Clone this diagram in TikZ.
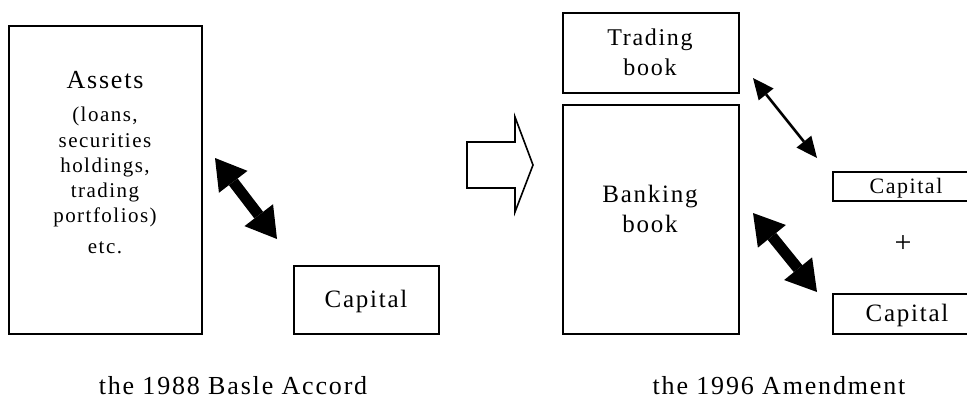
\documentclass[tikz,border=0pt]{standalone}
\usepackage{fontspec}
\setmainfont{Liberation Serif}
\newfontfamily\spaced[LetterSpace=7]{Liberation Serif}
\usetikzlibrary{arrows.meta}
\tikzset{
  box/.style={draw=black, line width=1.8pt, fill=white, inner sep=0pt, anchor=north west},
  lbl/.style={inner sep=0pt, anchor=base, text=black},
  thickarrow/.style={line width=11pt, {Triangle[length=30pt,width=36pt,line width=0pt]}-{Triangle[length=30pt,width=36pt,line width=0pt]}},
  thinarrow/.style={line width=2.6pt, {Triangle[length=21pt,width=19pt,line width=0pt]}-{Triangle[length=21pt,width=19pt,line width=0pt]}},
  hollow/.style={draw=black, line width=1.6pt, fill=white, line join=miter}
}
\begin{document}
\begin{tikzpicture}[x=1pt, y=-1pt]
\useasboundingbox (0,0) rectangle (967,410);
\fill[white] (0,0) rectangle (967,410);
\begin{scope}
\clip (0,0) rectangle (967,410);
% boxes
\node[box, minimum width=193pt, minimum height=308pt] (assets) at (8,25) {};
\node[box, minimum width=145pt, minimum height=68pt] (cap1) at (293,265) {};
\node[box, minimum width=176pt, minimum height=80pt] (trading) at (562,12) {};
\node[box, minimum width=176pt, minimum height=229pt] (banking) at (562,104) {};
\node[box, minimum width=160pt, minimum height=29pt] (cap2) at (832,171) {};
\node[box, minimum width=160pt, minimum height=40pt] (cap3) at (832,293) {};
% texts
\node[lbl, font=\spaced\fontsize{26}{30}\selectfont] (assetsT) at (105,88) {Assets};
\node[lbl, font=\spaced\fontsize{21}{25}\selectfont] (a1) at (105,121) {(loans,};
\node[lbl, font=\spaced\fontsize{21}{25}\selectfont] (a2) at (105,147) {securities};
\node[lbl, font=\spaced\fontsize{21}{25}\selectfont] (a3) at (105,172) {holdings,};
\node[lbl, font=\spaced\fontsize{21}{25}\selectfont] (a4) at (105,197) {trading};
\node[lbl, font=\spaced\fontsize{21}{25}\selectfont] (a5) at (105,222) {portfolios)};
\node[lbl, font=\spaced\fontsize{21}{25}\selectfont] (a6) at (105,253) {etc.};
\node[lbl, font=\spaced\fontsize{25}{28}\selectfont] (c1T) at (366,307) {Capital};
\node[lbl, font=\spaced\fontsize{24}{28}\selectfont] (tT1) at (650,45) {Trading};
\node[lbl, font=\spaced\fontsize{24}{28}\selectfont] (tT2) at (650,75) {book};
\node[lbl, font=\spaced\fontsize{25}{28}\selectfont] (bT1) at (650,202) {Banking};
\node[lbl, font=\spaced\fontsize{25}{28}\selectfont] (bT2) at (650,232) {book};
\node[lbl, font=\spaced\fontsize{22}{25}\selectfont] (c2T) at (906,193) {Capital};
\node[lbl, font=\fontsize{30}{32}\selectfont] (plus) at (903,252) {+};
\node[lbl, font=\spaced\fontsize{25}{28}\selectfont] (c3T) at (907,321) {Capital};
\node[lbl, font=\spaced\fontsize{26}{30}\selectfont] (cap88) at (233,394) {the 1988 Basle Accord};
\node[lbl, font=\spaced\fontsize{26}{30}\selectfont] (cap96) at (779,394) {the 1996 Amendment};
% hollow transition arrow
\draw[hollow] (467,142) -- (515,142) -- (515,117) -- (533,165) -- (515,212) -- (515,188) -- (467,188) -- cycle;
% connectors
\coordinate (l1) at (215,158);
\coordinate (l2) at (277,239);
\coordinate (t1) at (753,78);
\coordinate (t2) at (817,158);
\coordinate (b1) at (753,213);
\coordinate (b2) at (817,292);
\draw[thickarrow] (l1) -- (l2);
\draw[thinarrow] (t1) -- (t2);
\draw[thickarrow] (b1) -- (b2);
\end{scope}
\end{tikzpicture}
\end{document}
